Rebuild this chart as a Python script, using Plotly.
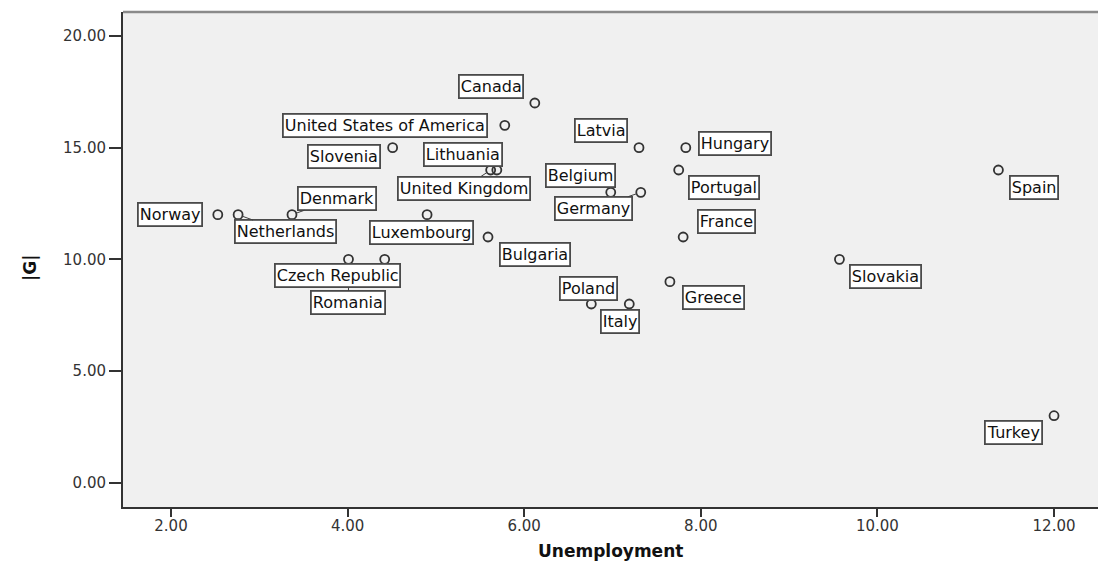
import plotly.graph_objects as go

# Country-level values: unemployment rate vs |G|
countries = [
    "Canada", "United States of America", "Slovenia", "Lithuania", "United Kingdom",
    "Latvia", "Hungary", "Portugal", "Belgium", "Germany", "France", "Norway",
    "Netherlands", "Denmark", "Luxembourg", "Bulgaria", "Romania", "Czech Republic",
    "Poland", "Italy", "Greece", "Spain", "Slovakia", "Turkey",
]
unemployment = [
    6.12, 5.78, 4.51, 5.69, 5.62,
    7.30, 7.83, 7.75, 6.98, 7.32, 7.80, 2.53,
    2.76, 3.37, 4.90, 5.59, 4.01, 4.42,
    6.76, 7.19, 7.65, 11.37, 9.57, 12.00,
]
g_abs = [
    17, 16, 15, 14, 14,
    15, 15, 14, 13, 13, 11, 12,
    12, 12, 12, 11, 10, 10,
    8, 8, 9, 14, 10, 3,
]

x_ticks = [2, 4, 6, 8, 10, 12]
y_ticks = [0, 5, 10, 15, 20]

# Label box placement relative to each point (pixels, y downward) and
# whether a leader line joins box and point.
label_offsets = {
    "Canada": (-44, -17, False),
    "United States of America": (-120, 0, False),
    "Slovenia": (-49, 9, False),
    "Lithuania": (-34, -16, False),
    "United Kingdom": (-27, 18, True),
    "Latvia": (-38, -17, False),
    "Hungary": (49, -4, False),
    "Portugal": (45, 17, False),
    "Belgium": (-30, -17, False),
    "Germany": (-47, 16, True),
    "France": (43, -16, False),
    "Norway": (-48, 0, False),
    "Netherlands": (47, 17, True),
    "Denmark": (45, -16, True),
    "Luxembourg": (-6, 18, False),
    "Bulgaria": (47, 17, False),
    "Romania": (0, 43, True),
    "Czech Republic": (-47, 16, False),
    "Poland": (-3, -16, False),
    "Italy": (-9, 17, False),
    "Greece": (44, 16, False),
    "Spain": (36, 17, False),
    "Slovakia": (46, 17, False),
    "Turkey": (-41, 17, False),
}

FONT = "DejaVu Sans, Arial, sans-serif"

fig = go.Figure()
fig.add_trace(go.Scatter(
    x=unemployment, y=g_abs, mode="markers",
    marker=dict(symbol="circle-open", size=9, color="#333333",
                line=dict(width=1.8, color="#333333")),
    hovertext=countries, hoverinfo="text+x+y",
    showlegend=False,
))

annotations = []
for name, xv, yv in zip(countries, unemployment, g_abs):
    dx, dy, leader = label_offsets[name]
    common = dict(
        x=xv, y=yv, xref="x", yref="y", text=name,
        font=dict(family=FONT, size=16, color="#111111"),
        bgcolor="white", bordercolor="#4a4a4a", borderwidth=1.8, borderpad=1,
    )
    if leader:
        annotations.append(dict(
            **common, showarrow=True, ax=dx, ay=dy, axref="pixel", ayref="pixel",
            arrowhead=0, arrowwidth=1, arrowcolor="#404040", standoff=4,
        ))
    else:
        annotations.append(dict(**common, showarrow=False, xshift=dx, yshift=-dy))

# Axis titles
annotations.append(dict(
    text="<b>Unemployment</b>", xref="paper", yref="paper",
    x=(610 - 123) / 975, y=(507 - 551) / 495, xanchor="center", yanchor="middle",
    showarrow=False, font=dict(family=FONT, size=17, color="#111111"),
))
annotations.append(dict(
    text="<b>|G|</b>", xref="paper", yref="paper",
    x=(30 - 123) / 975, y=(507 - 268) / 495, xanchor="center", yanchor="middle",
    textangle=-90, showarrow=False, font=dict(family=FONT, size=17, color="#111111"),
))

fig.update_layout(
    width=1098, height=563,
    margin=dict(l=123, r=0, t=12, b=56),
    paper_bgcolor="white", plot_bgcolor="#f0f0f0",
    annotations=annotations,
    shapes=[dict(type="line", xref="paper", yref="paper", x0=0, x1=1, y0=1, y1=1,
                 line=dict(color="#8a8a8a", width=2.5))],
)
fig.update_xaxes(
    range=[1.4564, 12.498], tickvals=x_ticks, ticktext=[f"{v:.2f}" for v in x_ticks],
    showgrid=False, zeroline=False, showline=True, linecolor="#333333", linewidth=2,
    ticks="outside", ticklen=8, tickwidth=2, tickcolor="#333333",
    ticklabelstandoff=-4,
    tickfont=dict(family=FONT, size=15, color="#333333"),
)
fig.update_yaxes(
    range=[-1.088, 21.075], tickvals=y_ticks, ticktext=[f"{v:.2f}" for v in y_ticks],
    showgrid=False, zeroline=False, showline=True, linecolor="#333333", linewidth=2,
    ticks="outside", ticklen=12, tickwidth=2, tickcolor="#333333",
    tickfont=dict(family=FONT, size=15, color="#333333"),
)

fig.write_html("out.html")
